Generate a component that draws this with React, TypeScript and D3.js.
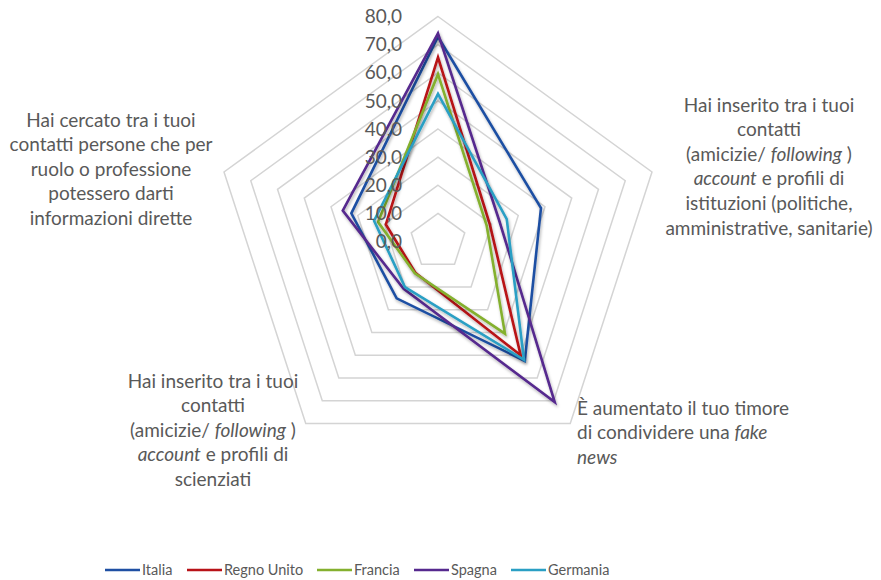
import { useEffect, useRef } from "react";
import * as d3 from "d3";

// axes, clockwise from the top one (top axis has no visible label)
const categories = [
  [""],
  ["Hai inserito tra i tuoi", "contatti", "(amicizie/ |following| )", "|account| e profili di", "istituzioni (politiche,", "amministrative, sanitarie)"],
  ["È aumentato il tuo timore", "di condividere una |fake|", "|news|"],
  ["Hai inserito tra i tuoi", "contatti", "(amicizie/ |following| )", "|account| e profili di", "scienziati"],
  ["Hai cercato tra i tuoi", "contatti persone che per", "ruolo o professione", "potessero darti", "informazioni dirette"],
];

const seriesNames = ["Italia", "Regno Unito", "Francia", "Spagna", "Germania"];
const seriesColors = ["#1f4fa3", "#b81218", "#84b02e", "#56298e", "#2a9fc4"];

const italia = [72.8, 38.5, 52.5, 25.0, 32.4];
const regnoUnito = [65.5, 19.4, 50.0, 13.7, 19.5];
const francia = [59.5, 18.2, 40.5, 14.0, 22.4];
const spagna = [74.0, 23.0, 70.6, 20.8, 35.6];
const germania = [52.5, 25.7, 52.0, 20.0, 23.9];
const seriesValues = [italia, regnoUnito, francia, spagna, germania];

const ticks = [0, 10, 20, 30, 40, 50, 60, 70, 80];

export default function App() {
  const ref = useRef<SVGSVGElement>(null);

  useEffect(() => {
    const svg = d3.select(ref.current);
    svg.selectAll("*").remove();

    const cx = 438, cy = 241.5;
    const r = d3.scaleLinear().domain([0, 80]).range([0, 225]);
    const angle = (i: number) => (i * 2 * Math.PI) / 5;
    const font = "Lato, 'Open Sans', sans-serif";

    const defs = svg.append("defs");
    const f = defs.append("filter").attr("id", "sh").attr("x", "-20%").attr("y", "-20%").attr("width", "140%").attr("height", "140%");
    f.append("feDropShadow").attr("dx", 1).attr("dy", 2).attr("stdDeviation", 1.4).attr("flood-color", "#000").attr("flood-opacity", 0.3);

    const g = svg.append("g").attr("transform", `translate(${cx},${cy})`);

    // rings
    const ring = d3.lineRadial<number>()
      .angle((d, i) => angle(i))
      .radius((d) => r(d))
      .curve(d3.curveLinearClosed);
    g.selectAll("path.ring")
      .data(ticks.filter((t) => t > 0))
      .join("path")
      .attr("class", "ring")
      .attr("d", (t) => ring([t, t, t, t, t]))
      .attr("fill", "none")
      .attr("stroke", "#d4d4d4")
      .attr("stroke-width", 1.5);

    // series
    const line = d3.lineRadial<number>()
      .angle((d, i) => angle(i))
      .radius((d) => r(d))
      .curve(d3.curveLinearClosed);
    g.selectAll("path.series")
      .data(seriesValues)
      .join("path")
      .attr("class", "series")
      .attr("d", (d) => line(d))
      .attr("fill", "none")
      .attr("stroke", (d, i) => seriesColors[i])
      .attr("stroke-width", 2.6)
      .attr("stroke-linejoin", "miter")
      .attr("filter", "url(#sh)");

    // tick labels
    g.selectAll("text.tick")
      .data(ticks)
      .join("text")
      .attr("class", "tick")
      .attr("x", -36)
      .attr("y", (t) => -r(t))
      .attr("dy", "0.35em")
      .attr("text-anchor", "end")
      .attr("font-family", font)
      .attr("font-size", 19)
      .attr("fill", "#595959")
      .text((t) => d3.format(".1f")(t).replace(".", ","));

    // category labels
    const labelPos = [
      { x: 0, y: 0, anchor: "middle" },
      { x: 769, y: 105, anchor: "middle" },
      { x: 577, y: 408, anchor: "start" },
      { x: 213, y: 381, anchor: "middle" },
      { x: 111, y: 120, anchor: "middle" },
    ];
    categories.forEach((lines, i) => {
      if (!lines[0]) return;
      const p = labelPos[i];
      const t = svg.append("text")
        .attr("text-anchor", p.anchor)
        .attr("font-family", font)
        .attr("font-size", 19)
        .attr("fill", "#595959");
      lines.forEach((ln, j) => {
        const tl = t.append("tspan").attr("x", p.x).attr("y", p.y + j * 24.6).attr("dy", "0.35em");
        ln.split("|").forEach((part, k) => {
          if (!part) return;
          tl.append("tspan").attr("font-style", k % 2 ? "italic" : "normal").text(part);
        });
      });
    });

    // legend
    const legendX = [105, 187, 317, 414, 511];
    const lg = svg.append("g");
    seriesNames.forEach((name, i) => {
      lg.append("line")
        .attr("x1", legendX[i]).attr("x2", legendX[i] + 35)
        .attr("y1", 570).attr("y2", 570)
        .attr("stroke", seriesColors[i]).attr("stroke-width", 2.6);
      lg.append("text")
        .attr("x", legendX[i] + 37).attr("y", 570).attr("dy", "0.35em")
        .attr("font-family", font).attr("font-size", 14.5).attr("fill", "#595959")
        .text(name);
    });
  }, []);

  return (
    <svg ref={ref} width={881} height={580}
      style={{ position: "absolute", left: 0, top: 0, background: "#fff" }} />
  );
}
